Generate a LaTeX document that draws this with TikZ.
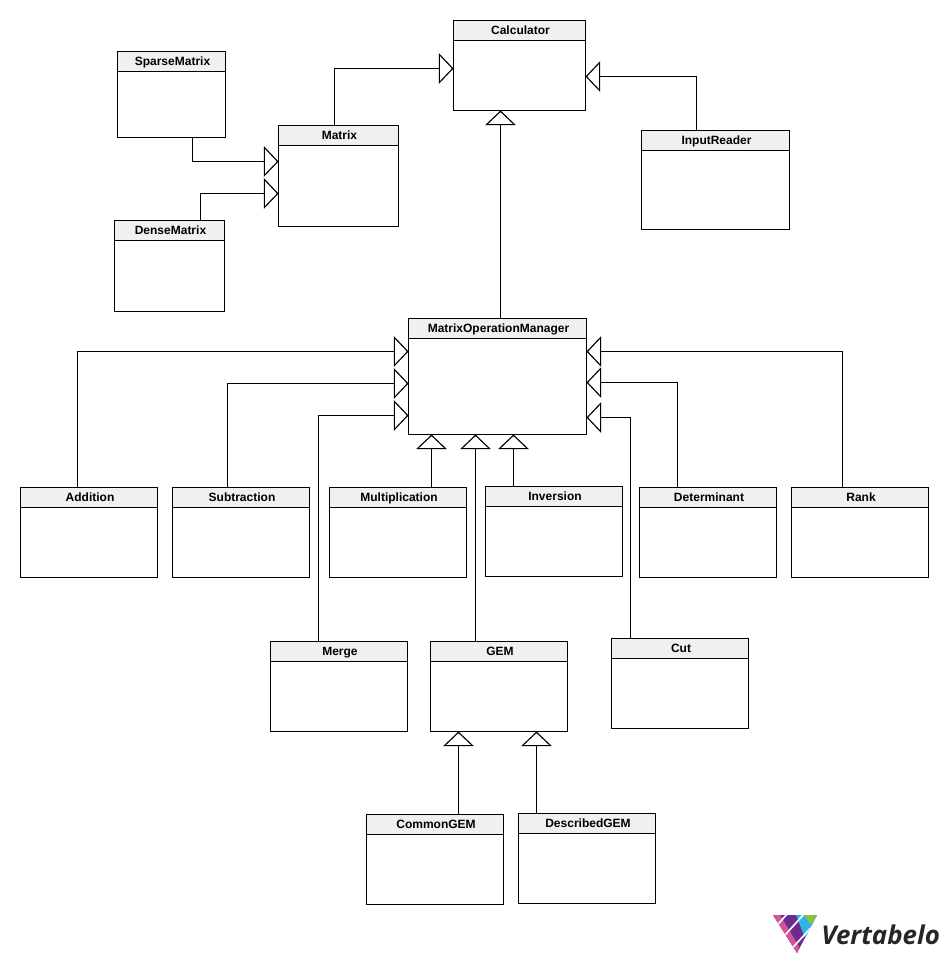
\documentclass[tikz,border=0pt]{standalone}
\usepackage{fontspec}
\setmainfont{Liberation Sans}
\newfontfamily\logofont{Open Sans}
\usetikzlibrary{arrows.meta,calc}
\definecolor{headgrey}{HTML}{F0F0F0}
\definecolor{logotxt}{HTML}{262626}
\definecolor{lpink}{HTML}{D4549A}
\definecolor{lpurple}{HTML}{6A2C91}
\definecolor{lblue}{HTML}{2DB5E8}
\definecolor{lgreen}{HTML}{8DC044}
\tikzset{
  x=0.75pt,y=-0.75pt,
  classbox/.style={draw=black,fill=white,rectangle,inner sep=0pt,outer sep=0pt,line width=0.85pt},
  headbox/.style={draw=black,fill=headgrey,rectangle,inner sep=0pt,outer sep=0pt,line width=0.85pt,
    text height=8.2pt,text depth=2pt,
    font=\bfseries\fontsize{9pt}{11pt}\selectfont,text=black},
  inherit/.style={draw=black,line width=0.85pt,-{Triangle[open,fill=white,length=11pt,width=23pt]}},
}
% name, x1, y1, x2, y2, title
\newcommand{\umlclass}[6]{%
  \pgfmathsetmacro{\bw}{(#4-#2)*0.75}\pgfmathsetmacro{\bh}{(#5-#3)*0.75}%
  \node[classbox,minimum width=\bw pt,minimum height=\bh pt] (#1) at ({(#2+#4)/2},{(#3+#5)/2}) {};
  \node[headbox,minimum width=\bw pt,minimum height=15pt,anchor=north] (#1Head) at (#1.north) {\hspace*{1.5pt}#6};
}
\begin{document}
\begin{tikzpicture}
\useasboundingbox (0,0) rectangle (948,964);
\umlclass{Calculator}{453.5}{20.5}{585.5}{110.5}{Calculator}
\umlclass{SparseMatrix}{117.5}{51.5}{225.5}{137.5}{SparseMatrix}
\umlclass{Matrix}{278.5}{125.5}{398.5}{226.5}{Matrix}
\umlclass{DenseMatrix}{114.5}{220.5}{224.5}{311.5}{DenseMatrix}
\umlclass{InputReader}{641.5}{130.5}{789.5}{229.5}{InputReader}
\umlclass{MOM}{408.5}{318.5}{586.5}{434.5}{MatrixOperationManager}
\umlclass{Addition}{20.5}{487.5}{157.5}{577.5}{Addition}
\umlclass{Subtraction}{172.5}{487.5}{309.5}{577.5}{Subtraction}
\umlclass{Multiplication}{329.5}{487.5}{466.5}{577.5}{Multiplication}
\umlclass{Inversion}{485.5}{486.5}{622.5}{576.5}{Inversion}
\umlclass{Determinant}{639.5}{487.5}{776.5}{577.5}{Determinant}
\umlclass{Rank}{791.5}{487.5}{928.5}{577.5}{Rank}
\umlclass{Merge}{270.5}{641.5}{407.5}{731.5}{Merge}
\umlclass{GEM}{430.5}{641.5}{567.5}{731.5}{GEM}
\umlclass{Cut}{611.5}{638.5}{748.5}{728.5}{Cut}
\umlclass{CommonGEM}{366.5}{814.5}{503.5}{904.5}{CommonGEM}
\umlclass{DescribedGEM}{518.5}{813.5}{655.5}{903.5}{DescribedGEM}

\draw[inherit] ($(Matrix.north west)+(56,0)$) |- ($(Calculator.north west)+(0,48)$);
\draw[inherit] ($(SparseMatrix.south west)+(75,0)$) |- ($(Matrix.north west)+(0,36)$);
\draw[inherit] ($(DenseMatrix.north west)+(86,0)$) |- ($(Matrix.north west)+(0,68)$);
\draw[inherit] ($(MOM.north west)+(92,0)$) -- ($(Calculator.south west)+(47,0)$);
\draw[inherit] ($(InputReader.north west)+(55,0)$) |- ($(Calculator.north east)+(0,56)$);
\draw[inherit] ($(Addition.north west)+(57,0)$) |- ($(MOM.north west)+(0,33)$);
\draw[inherit] ($(Subtraction.north west)+(55,0)$) |- ($(MOM.north west)+(0,65)$);
\draw[inherit] ($(Merge.north west)+(48,0)$) |- ($(MOM.north west)+(0,97)$);
\draw[inherit] ($(Multiplication.north west)+(102,0)$) -- ($(MOM.south west)+(23,0)$);
\draw[inherit] ($(GEM.north west)+(45,0)$) -- ($(MOM.south west)+(67,0)$);
\draw[inherit] ($(Inversion.north west)+(28,0)$) -- ($(MOM.south west)+(105,0)$);
\draw[inherit] ($(Determinant.north west)+(38,0)$) |- ($(MOM.north east)+(0,64)$);
\draw[inherit] ($(Rank.north west)+(51,0)$) |- ($(MOM.north east)+(0,33)$);
\draw[inherit] ($(Cut.north west)+(19,0)$) |- ($(MOM.north east)+(0,99)$);
\draw[inherit] ($(CommonGEM.north west)+(92,0)$) -- ($(GEM.south west)+(28,0)$);
\draw[inherit] ($(DescribedGEM.north west)+(18,0)$) -- ($(GEM.south west)+(106,0)$);

% logo
\begin{scope}
\clip (773,915) -- (817,915) -- (797,953) -- cycle;
\fill[lpurple] (770,910) rectangle (820,955);
\fill[lblue] (796,915) -- (820,915) -- (820,925) -- (807,943) -- cycle;
\fill[lpink] (770,915) -- (780,915) -- (804,955) -- (770,955) -- cycle;
\fill[lgreen] (804,915) -- (820,915) -- (820,925) -- (811,925) -- cycle;
\draw[white,line width=1.2pt] (788,913) -- (771,932);
\draw[white,line width=1.2pt] (805,913) -- (775,946);
\draw[white,line width=1.2pt] (819,919) -- (785,956);
\end{scope}
\node[anchor=base west,inner sep=0pt,text=logotxt,font=\logofont\bfseries\itshape\fontsize{19.4pt}{24pt}\selectfont] (logoText) at (821,944) {Vertabelo};
\end{tikzpicture}
\end{document}
